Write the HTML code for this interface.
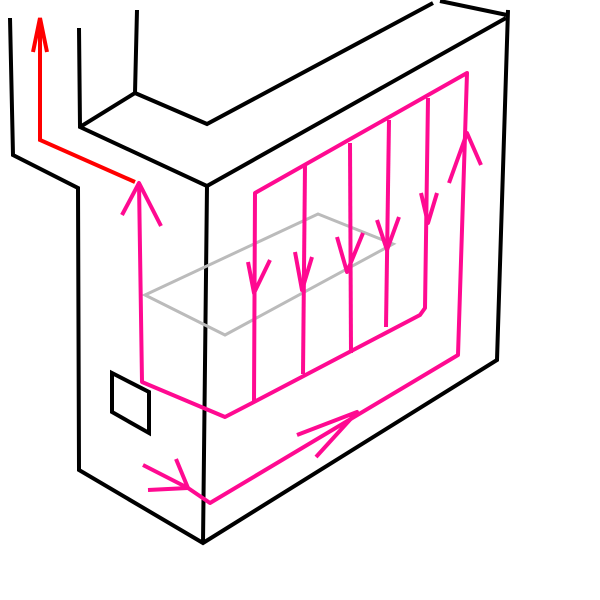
<!DOCTYPE html>
<html><head><meta charset="utf-8"><style>html,body{margin:0;padding:0;background:#fff;}svg{display:block}</style></head>
<body>
<svg width="600" height="600" viewBox="0 0 600 600" xmlns="http://www.w3.org/2000/svg">
<g fill="none" stroke="#000" stroke-width="4" stroke-linejoin="miter">
<polyline points="10,18 13,155 78,188 79,470 203,543 497,360 508,10"/>
<polyline points="203,543 207,186 80,127 79,28"/>
<polyline points="207,186 506,18"/>
<polyline points="80,127 135,93 137,10"/>
<polyline points="135,93 207,124 433,3"/>
<polyline points="440,1 507,15"/>
<polygon points="112,373 149,392 149,433 112,412"/>
</g>
<polygon points="145,295 318,214 393,244 225,335" fill="none" stroke="#bbb" stroke-width="3"/>
<g fill="none" stroke="#ff0000" stroke-width="4">
<polyline points="135,182 40,140 40,20"/>
<polyline points="33,52 40,18 47,52"/>
</g>
<g fill="none" stroke="#ff0a91" stroke-width="4" stroke-linejoin="round">
<polyline points="139,183 142,382 225,417 254,402 420,315 425,308 428,98"/>
<polyline points="143,465 188,488 210,503 458,355 467,73 255,193 254,402"/>
<polyline points="305,165 303,374"/>
<polyline points="350,143 351,353"/>
<polyline points="389,120 386,327"/>
<polyline points="248,262 254,293 270,260"/>
<polyline points="295,252 302,290 312,257"/>
<polyline points="337,237 347,272 363,233"/>
<polyline points="377,220 387,250 399,217"/>
<polyline points="421,193 428,223 437,193"/>
<polyline points="449,183 467,133 481,165"/>
<polyline points="122,215 139,183 161,226"/>
<polyline points="297,435 357,412 316,457"/>
<polyline points="176,459 188,488 148,490"/>
</g>
</svg>
</body></html>
